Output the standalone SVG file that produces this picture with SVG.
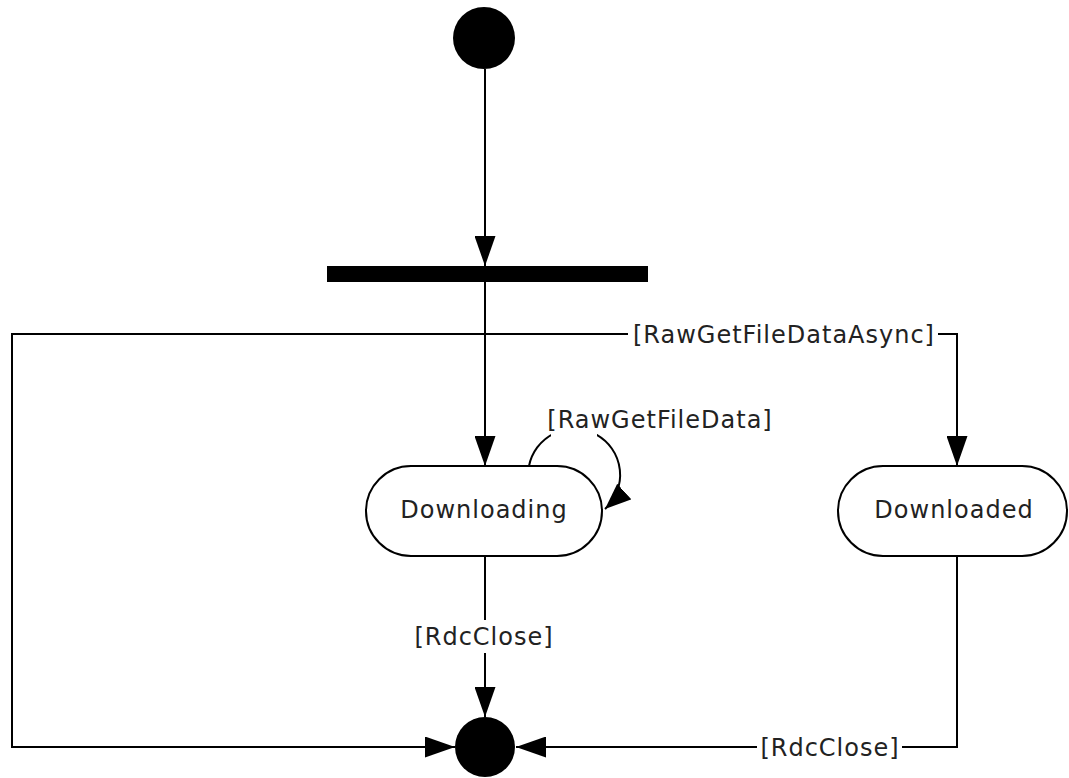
<svg xmlns="http://www.w3.org/2000/svg" width="1069" height="778" viewBox="0 0 1069 778">
<style>
.ln{fill:none;stroke:#000;stroke-width:2}
.st{fill:#fff;stroke:#000;stroke-width:2}
.tx{font-family:"DejaVu Sans",Verdana,sans-serif;font-size:24px;letter-spacing:1px;fill:#222;text-anchor:middle}
</style>
<defs>
<marker id="ah" markerUnits="userSpaceOnUse" markerWidth="30" markerHeight="21" refX="30" refY="10.5" orient="auto">
<path d="M0,0 L30,10.5 L0,21 Z" fill="#000"/>
</marker>
<marker id="ahs" markerUnits="userSpaceOnUse" markerWidth="26" markerHeight="21" refX="26" refY="10.5" orient="auto">
<path d="M0,0 L26,10.5 L0,21 Z" fill="#000"/>
</marker>
</defs>
<rect width="1069" height="778" fill="#fff"/>
<g id="connectors">
<path class="ln" d="M485,69 L485,266" marker-end="url(#ah)"/>
<path class="ln" d="M485,282 L485,466" marker-end="url(#ah)"/>
<path class="ln" d="M628,334 L12,334 L12,747 L455,747" marker-end="url(#ah)"/>
<path class="ln" d="M938,334 L957,334 L957,466" marker-end="url(#ah)"/>
<path class="ln" d="M485,556 L485,620"/>
<path class="ln" d="M485,653 L485,717" marker-end="url(#ah)"/>
<path class="ln" d="M957,556 L957,747 L902,747"/>
<path class="ln" d="M757,747 L516,747" marker-end="url(#ah)"/>
<path class="ln" d="M529,466 A46,46 0 1 1 605,509" marker-end="url(#ahs)"/>
<rect x="551" y="400" width="46" height="37" fill="#fff"/>
<text class="tx" x="784" y="343">[RawGetFileDataAsync]</text>
<text class="tx" x="660" y="428">[RawGetFileData]</text>
<text class="tx" x="484" y="645">[RdcClose]</text>
<text class="tx" x="830" y="756">[RdcClose]</text>
</g>
<g id="start"><circle cx="484" cy="38" r="31" fill="#000"/></g>
<g id="fork"><rect x="327" y="266" width="321" height="16" fill="#000"/></g>
<g id="downloading">
<rect class="st" x="366" y="466" width="236" height="90" rx="45" ry="45"/>
<text class="tx" x="484" y="518">Downloading</text>
</g>
<g id="downloaded">
<rect class="st" x="838" y="466" width="229" height="90" rx="45" ry="45"/>
<text class="tx" x="954" y="518">Downloaded</text>
</g>
<g id="final"><circle cx="485" cy="747" r="30" fill="#000"/></g>
</svg>
